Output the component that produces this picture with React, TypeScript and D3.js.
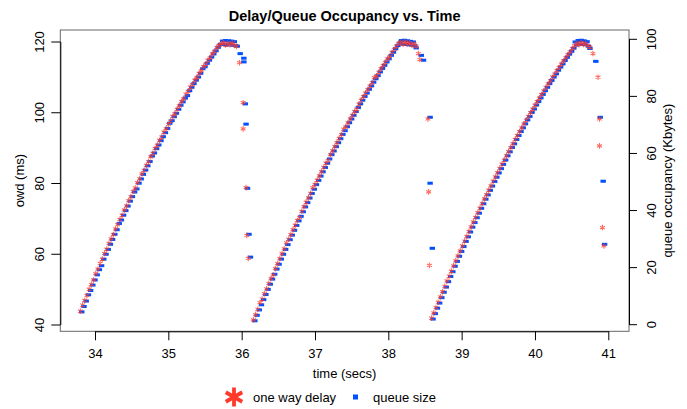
import React, { useEffect, useRef } from "react";
import * as d3 from "d3";

const W = 687;
const H = 409;

// one-way delay samples (ms), cycle 1
const owdT1 = [33.80, 33.83, 33.86, 33.89, 33.92, 33.95, 33.98, 34.01, 34.04, 34.07, 34.10, 34.13, 34.16, 34.19, 34.22, 34.25, 34.28, 34.31, 34.34, 34.37, 34.40, 34.43, 34.46, 34.49, 34.52, 34.55, 34.58, 34.61, 34.64, 34.67, 34.70, 34.73, 34.76, 34.79, 34.82, 34.85, 34.88, 34.91, 34.94, 34.97, 35.00, 35.03, 35.06, 35.09, 35.12, 35.15, 35.18, 35.21, 35.24, 35.27, 35.30, 35.33, 35.36, 35.39, 35.42, 35.45, 35.48, 35.51, 35.54, 35.57, 35.60, 35.63, 35.66, 35.69,
  35.72, 35.75, 35.78, 35.81, 35.84, 35.87, 35.90, 35.93, 35.97, 36.02, 36.02, 36.06, 36.07, 36.09];
const owd1 = [43.8, 45.5, 46.8, 48.2, 50.0, 51.3, 52.6, 54.4, 55.7, 57.3, 58.5, 60.1, 61.3, 62.9, 64.2, 65.4, 67.0, 68.2, 69.7, 70.9, 72.4, 73.5, 75.0, 76.1, 77.6, 78.6, 80.1, 81.2, 82.6, 83.6, 85.0, 86.0, 87.4, 88.4, 89.8, 90.7, 92.1, 93.0, 94.4, 95.3, 96.6, 97.5, 98.8, 99.6, 100.9, 101.8, 103.0, 103.8, 105.1, 105.9, 107.1, 107.9, 109.1, 109.8, 111.0, 111.7, 112.9, 113.6, 114.7, 115.4, 116.5, 117.2, 118.3, 118.9,
  119.3, 119.7, 119.0, 119.5, 119.1, 119.6, 118.9, 118.6, 114.0, 102.7, 95.3, 78.7, 65.2, 58.7];

// queue occupancy samples (Kbytes), cycle 1
const queueT1 = [33.82, 33.85, 33.88, 33.91, 33.94, 33.97, 34.00, 34.03, 34.06, 34.09, 34.12, 34.15, 34.18, 34.21, 34.24, 34.27, 34.30, 34.33, 34.36, 34.39, 34.42, 34.45, 34.48, 34.51, 34.54, 34.57, 34.60, 34.63, 34.66, 34.69, 34.72, 34.75, 34.78, 34.81, 34.84, 34.87, 34.90, 34.93, 34.96, 34.99, 35.02, 35.05, 35.08, 35.11, 35.14, 35.17, 35.20, 35.23, 35.26, 35.29, 35.32, 35.35, 35.38, 35.41, 35.44, 35.47, 35.50, 35.53, 35.56, 35.59, 35.62, 35.65, 35.68, 35.71,
  35.74, 35.76, 35.78, 35.80, 35.82, 35.84, 35.86, 35.88, 35.90, 35.92, 35.94, 35.98, 36.03, 36.03, 36.05, 36.06, 36.08, 36.10, 36.12];
const queue1 = [4.3, 6.2, 8.1, 10.3, 11.8, 13.7, 15.5, 17.3, 19.1, 20.5, 22.8, 24.5, 26.2, 28.0, 29.7, 31.5, 33.1, 35.3, 36.5, 38.2, 39.8, 41.4, 43.1, 44.7, 46.3, 47.4, 49.4, 50.9, 52.5, 54.0, 55.5, 57.0, 58.9, 60.0, 61.5, 62.8, 64.3, 65.7, 67.1, 68.6, 70.4, 71.3, 72.7, 73.9, 75.3, 76.7, 77.9, 79.2, 80.1, 81.8, 83.0, 84.3, 85.5, 86.6, 87.9, 89.5, 90.2, 91.4, 92.5, 93.6, 94.7, 95.8, 97.0, 98.0,
  99.2, 98.0, 99.4, 97.8, 99.3, 98.1, 99.2, 97.7, 99.0, 97.6, 97.4, 94.8, 93.2, 91.9, 77.2, 70.1, 47.6, 31.5, 23.5];

// one-way delay samples (ms), cycle 2
const owdT2 = [36.16, 36.19, 36.22, 36.25, 36.28, 36.31, 36.34, 36.37, 36.40, 36.43, 36.46, 36.49, 36.52, 36.55, 36.58, 36.61, 36.64, 36.67, 36.70, 36.73, 36.76, 36.79, 36.82, 36.85, 36.88, 36.91, 36.94, 36.97, 37.00, 37.03, 37.06, 37.09, 37.12, 37.15, 37.18, 37.21, 37.24, 37.27, 37.30, 37.33, 37.36, 37.39, 37.42, 37.45, 37.48, 37.51, 37.54, 37.57, 37.60, 37.63, 37.66, 37.69, 37.72, 37.75, 37.78, 37.81, 37.84, 37.87, 37.90, 37.93, 37.96, 37.99, 38.02, 38.05, 38.08, 38.11, 38.14,
  38.17, 38.20, 38.23, 38.26, 38.29, 38.32, 38.35, 38.38, 38.41, 38.43, 38.54, 38.55, 38.56];
const owd2 = [41.3, 42.8, 44.3, 46.2, 47.2, 48.7, 50.1, 51.6, 53.0, 54.0, 55.8, 57.2, 58.6, 60.0, 61.4, 63.1, 64.1, 65.4, 66.8, 68.1, 69.4, 70.3, 72.0, 73.3, 74.6, 75.8, 77.1, 78.7, 79.6, 80.8, 82.0, 83.2, 84.4, 85.6, 86.4, 88.0, 89.1, 90.3, 91.4, 92.6, 93.7, 95.2, 95.9, 97.0, 98.1, 99.1, 100.2, 100.9, 102.3, 103.4, 104.4, 105.4, 106.4, 107.4, 108.4, 109.8, 110.3, 111.3, 112.3, 113.2, 114.1, 115.1, 115.7, 116.9, 117.8, 118.7, 119.5,
  119.8, 119.2, 119.9, 119.3, 119.6, 118.9, 119.4, 118.7, 116.6, 114.9, 98.1, 77.5, 56.7];

// queue occupancy samples (Kbytes), cycle 2
const queueT2 = [36.18, 36.21, 36.24, 36.27, 36.30, 36.33, 36.36, 36.39, 36.42, 36.45, 36.48, 36.51, 36.54, 36.57, 36.60, 36.63, 36.66, 36.69, 36.72, 36.75, 36.78, 36.81, 36.84, 36.87, 36.90, 36.93, 36.96, 36.99, 37.02, 37.05, 37.08, 37.11, 37.14, 37.17, 37.20, 37.23, 37.26, 37.29, 37.32, 37.35, 37.38, 37.41, 37.44, 37.47, 37.50, 37.53, 37.56, 37.59, 37.62, 37.65, 37.68, 37.71, 37.74, 37.77, 37.80, 37.83, 37.86, 37.89, 37.92, 37.95, 37.98, 38.01, 38.04, 38.07, 38.10, 38.13, 38.16,
  38.18, 38.20, 38.22, 38.24, 38.26, 38.28, 38.30, 38.32, 38.34, 38.36, 38.38, 38.45, 38.48, 38.57, 38.57, 38.60];
const queue2 = [1.2, 3.1, 5.0, 6.8, 8.6, 10.4, 12.2, 14.0, 15.8, 17.5, 19.3, 21.0, 22.8, 24.5, 26.2, 27.9, 29.6, 31.2, 32.9, 34.6, 36.2, 37.8, 39.4, 41.1, 42.6, 44.2, 45.8, 47.3, 48.9, 50.4, 51.9, 53.4, 54.9, 56.4, 57.9, 59.4, 60.7, 62.2, 63.6, 65.0, 66.5, 67.8, 69.2, 70.6, 71.9, 73.2, 74.5, 75.9, 77.2, 78.5, 79.8, 81.0, 82.3, 83.5, 84.8, 86.0, 87.1, 88.4, 89.6, 90.7, 91.9, 93.0, 94.2, 95.3, 96.5, 97.6, 98.6,
  99.4, 98.1, 99.5, 98.0, 99.3, 97.9, 99.1, 97.8, 98.9, 97.6, 96.8, 94.2, 92.5, 72.5, 49.4, 26.6];

// one-way delay samples (ms), cycle 3
const owdT3 = [38.59, 38.62, 38.65, 38.68, 38.71, 38.74, 38.77, 38.80, 38.83, 38.86, 38.89, 38.92, 38.95, 38.98, 39.01, 39.04, 39.07, 39.10, 39.13, 39.16, 39.19, 39.22, 39.25, 39.28, 39.31, 39.34, 39.37, 39.40, 39.43, 39.46, 39.49, 39.52, 39.55, 39.58, 39.61, 39.64, 39.67, 39.70, 39.73, 39.76, 39.79, 39.82, 39.85, 39.88, 39.91, 39.94, 39.97, 40.00, 40.03, 40.06, 40.09, 40.12, 40.15, 40.18, 40.21, 40.24, 40.27, 40.30, 40.33, 40.36, 40.39, 40.42, 40.45, 40.48, 40.51,
  40.54, 40.57, 40.60, 40.63, 40.66, 40.69, 40.72, 40.75, 40.79, 40.86, 40.88, 40.88, 40.92, 40.94];
const owd3 = [41.8, 43.3, 44.8, 46.3, 47.8, 49.3, 50.8, 52.3, 53.7, 55.1, 56.6, 58.0, 59.4, 60.8, 62.2, 63.6, 64.9, 66.3, 67.6, 69.0, 70.3, 71.6, 72.9, 74.2, 75.5, 76.7, 78.0, 79.2, 80.5, 81.7, 82.9, 84.1, 85.3, 86.5, 87.7, 88.9, 90.0, 91.1, 92.3, 93.4, 94.5, 95.6, 96.7, 97.8, 98.8, 99.9, 100.9, 102.0, 103.0, 104.0, 105.0, 106.0, 107.0, 108.0, 108.9, 109.9, 110.8, 111.8, 112.7, 113.6, 114.5, 115.4, 116.3, 117.1, 118.0,
  118.8, 119.5, 119.1, 119.7, 119.2, 119.5, 118.8, 118.4, 116.6, 109.9, 98.1, 90.5, 67.4, 62.2];

// queue occupancy samples (Kbytes), cycle 3
const queueT3 = [38.61, 38.64, 38.67, 38.70, 38.73, 38.76, 38.79, 38.82, 38.85, 38.88, 38.91, 38.94, 38.97, 39.00, 39.03, 39.06, 39.09, 39.12, 39.15, 39.18, 39.21, 39.24, 39.27, 39.30, 39.33, 39.36, 39.39, 39.42, 39.45, 39.48, 39.51, 39.54, 39.57, 39.60, 39.63, 39.66, 39.69, 39.72, 39.75, 39.78, 39.81, 39.84, 39.87, 39.90, 39.93, 39.96, 39.99, 40.02, 40.05, 40.08, 40.11, 40.14, 40.17, 40.20, 40.23, 40.26, 40.29, 40.32, 40.35, 40.38, 40.41, 40.44, 40.47, 40.50, 40.53,
  40.55, 40.57, 40.59, 40.61, 40.63, 40.65, 40.67, 40.69, 40.71, 40.73, 40.75, 40.83, 40.89, 40.93, 40.95];
const queue3 = [1.8, 3.7, 5.6, 7.4, 9.3, 11.2, 13.0, 14.9, 16.7, 18.4, 20.3, 22.0, 23.8, 25.5, 27.2, 29.0, 30.6, 32.3, 34.0, 35.6, 37.3, 38.9, 40.6, 42.2, 43.8, 45.3, 46.9, 48.4, 50.0, 51.5, 53.0, 54.5, 56.0, 57.5, 59.0, 60.4, 61.9, 63.2, 64.7, 66.1, 67.5, 68.8, 70.2, 71.6, 72.8, 74.2, 75.4, 76.8, 78.0, 79.3, 80.5, 81.8, 83.0, 84.3, 85.4, 86.6, 87.7, 89.0, 90.1, 91.2, 92.4, 93.5, 94.6, 95.6, 96.7,
  98.9, 97.8, 99.4, 98.2, 99.5, 98.0, 99.3, 97.9, 99.0, 97.4, 96.6, 92.1, 72.5, 50.1, 28.0];

const timeTicks = [34, 35, 36, 37, 38, 39, 40, 41];
const owdTicks = [40, 60, 80, 100, 120];
const queueTicks = [0, 20, 40, 60, 80, 100];

const RED = "#ff3a2a";
const BLUE = "#0050ff";
const FONT = "'Liberation Sans', Arial, Helvetica, sans-serif";

function asteriskPath(r: number): string {
  const c = Math.cos(Math.PI / 6) * r;
  const s = Math.sin(Math.PI / 6) * r;
  return `M0,${-r}L0,${r}M${-c},${-s}L${c},${s}M${-c},${s}L${c},${-s}`;
}

export default function App() {
  const ref = useRef<SVGSVGElement>(null);

  useEffect(() => {
    const svg = d3.select(ref.current);
    svg.selectAll("*").remove();

    const left = 60.3, right = 629, top = 30, bottom = 331.3;

    const x = d3.scaleLinear().domain([34, 41]).range([95, 608.3]);
    const yOwd = d3.scaleLinear().domain([40, 120]).range([324.5, 41.5]);
    const yQueue = d3.scaleLinear().domain([0, 100]).range([324.2, 38.8]);

    const owdPts = [
      ...d3.zip(owdT1, owd1),
      ...d3.zip(owdT2, owd2),
      ...d3.zip(owdT3, owd3),
    ];
    const queuePts = [
      ...d3.zip(queueT1, queue1),
      ...d3.zip(queueT2, queue2),
      ...d3.zip(queueT3, queue3),
    ];

    // title
    svg.append("text")
      .attr("x", (left + right) / 2)
      .attr("y", 21)
      .attr("text-anchor", "middle")
      .attr("font-family", FONT)
      .attr("font-weight", "bold")
      .attr("font-size", 14.5)
      .text("Delay/Queue Occupancy vs. Time");

    // plot frame
    svg.append("rect")
      .attr("x", left).attr("y", top)
      .attr("width", right - left).attr("height", bottom - top)
      .attr("fill", "none").attr("stroke", "#666").attr("stroke-width", 1);

    // queue marks
    svg.append("g").selectAll("rect")
      .data(queuePts)
      .join("rect")
      .attr("x", (d) => x(d[0]) - 2.7)
      .attr("y", (d) => yQueue(d[1]) - 1.5)
      .attr("width", 5.4)
      .attr("height", 3)
      .attr("fill", BLUE);

    // delay marks
    svg.append("g").selectAll("path")
      .data(owdPts)
      .join("path")
      .attr("transform", (d) => `translate(${x(d[0])},${yOwd(d[1])})`)
      .attr("d", asteriskPath(2.8))
      .attr("stroke", RED)
      .attr("stroke-width", 1.1)
      .attr("stroke-opacity", 0.75)
      .attr("fill", "none");

    const axisStyle = (g: d3.Selection<SVGGElement, unknown, null, undefined>) => {
      g.selectAll("path.domain").attr("stroke", "#000");
      g.selectAll(".tick line").attr("stroke", "#000");
      g.selectAll(".tick text").attr("font-family", FONT).attr("font-size", 13).attr("fill", "#000");
    };

    // bottom axis
    const gx = svg.append("g").attr("transform", `translate(0,${bottom})`)
      .call(d3.axisBottom(x).tickValues(timeTicks).tickSize(9).tickSizeOuter(0).tickPadding(8).tickFormat(d3.format("d")));
    axisStyle(gx);
    gx.selectAll(".tick text").attr("dy", "0.71em");

    // left axis
    const gl = svg.append("g").attr("transform", `translate(${left},0)`)
      .call(d3.axisLeft(yOwd).tickValues(owdTicks).tickSize(9).tickSizeOuter(0).tickFormat(d3.format("d")));
    axisStyle(gl);
    gl.selectAll(".tick text")
      .attr("x", null).attr("dy", null)
      .attr("text-anchor", "middle")
      .attr("transform", "translate(-16,0) rotate(-90)");

    // right axis
    const gr = svg.append("g").attr("transform", `translate(${right},0)`)
      .call(d3.axisRight(yQueue).tickValues(queueTicks).tickSize(8).tickSizeOuter(0).tickFormat(d3.format("d")));
    axisStyle(gr);
    gr.selectAll(".tick text")
      .attr("x", null).attr("dy", null)
      .attr("text-anchor", "middle")
      .attr("transform", "translate(27,0) rotate(-90)");

    // axis titles
    svg.append("text")
      .attr("transform", `translate(24,${(top + bottom) / 2}) rotate(-90)`)
      .attr("text-anchor", "middle")
      .attr("font-family", FONT).attr("font-size", 13)
      .text("owd (ms)");
    svg.append("text")
      .attr("transform", `translate(672,${(top + bottom) / 2}) rotate(-90)`)
      .attr("text-anchor", "middle")
      .attr("font-family", FONT).attr("font-size", 13)
      .text("queue occupancy (Kbytes)");
    svg.append("text")
      .attr("x", (left + right) / 2).attr("y", 378)
      .attr("text-anchor", "middle")
      .attr("font-family", FONT).attr("font-size", 13)
      .text("time (secs)");

    // legend
    const lg = svg.append("g");
    lg.append("path")
      .attr("transform", "translate(234,397)")
      .attr("d", asteriskPath(9.5))
      .attr("stroke", RED).attr("stroke-width", 3.8).attr("fill", "none");
    lg.append("text").attr("x", 253).attr("y", 402)
      .attr("font-family", FONT).attr("font-size", 13).text("one way delay");
    lg.append("rect").attr("x", 353).attr("y", 394.5).attr("width", 5).attr("height", 5).attr("fill", BLUE);
    lg.append("text").attr("x", 373).attr("y", 402)
      .attr("font-family", FONT).attr("font-size", 13).text("queue size");
  }, []);

  return (
    <svg
      ref={ref}
      width={W}
      height={H}
      style={{ position: "absolute", left: 0, top: 0, background: "#fff" }}
    />
  );
}
